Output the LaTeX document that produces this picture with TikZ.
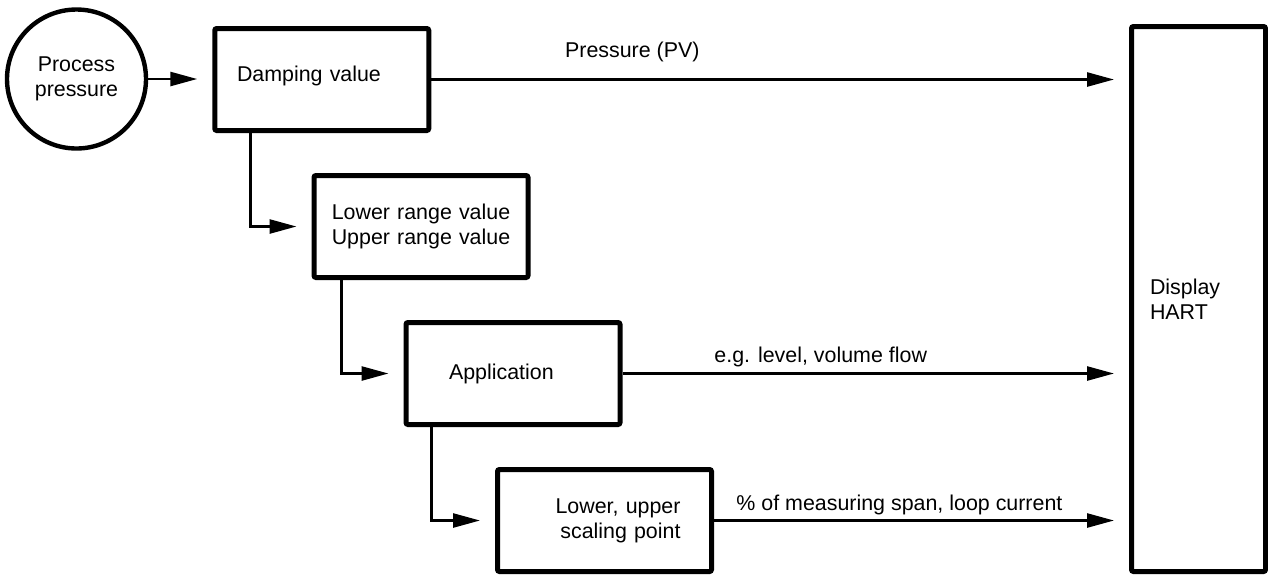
\documentclass[tikz,border=0pt]{standalone}
\usepackage{fontspec}
\setmainfont{Liberation Sans}
\usepackage{tikz}
\usetikzlibrary{arrows.meta,positioning}
\newcommand{\txtsize}{\fontsize{10.7pt}{12.5pt}\selectfont}

\begin{document}
\begin{tikzpicture}[
   x=0.5pt, y=-0.5pt,
   blk/.style={draw, line width=2.5pt, rounded corners=1pt, minimum width=107pt,
               minimum height=51pt, inner sep=2pt, font=\txtsize},
   src/.style={draw, circle, line width=2.2pt, minimum size=69.5pt,
               inner sep=0pt, align=center, font=\txtsize},
   fl/.style={-{Triangle[length=13.5pt, width=7pt]}, line width=1.3pt,
              shorten >=7.5pt},
   lbl/.style={anchor=base west, inner sep=0pt, font=\txtsize}]
  \useasboundingbox (0,0) rectangle (1268,575);
  \node[src] (pp) at (76.5,79) {Process\\pressure};
  \node[blk, text width=84.75pt, align=left, text depth=5.75pt] (damp) at (321.75,79.5) {Damping value};
  \node[blk, text width=90pt, align=center] (range) at (421,226.5) {Lower range value\\Upper range value};
  \node[blk, text width=64pt, align=left] (app) at (513,373.5) {Application};
  \node[blk, text width=76pt, align=right] (scale) at (604.5,520.5) {Lower, upper\\scaling point};
  \node[blk, minimum width=67pt, minimum height=272.5pt, text width=48.5pt, align=left]
       (disp) at (1198.5,299) {Display\\HART};
  \draw[fl] (pp.east) -- (pp.east -| damp.west);
  \foreach \p/\q/\d in {damp/range/19pt, range/app/15pt, app/scale/14pt}
    {\draw[fl] ([xshift=\d]\p.south west) |- (\q.west);}
  \draw[fl] (damp.east) -- (damp.east -| disp.west)
        node[lbl, pos=0.19, yshift=11pt] (pv) {Pressure (PV)};
  \draw[fl] (app.east) -- (app.east -| disp.west)
        node[lbl, pos=0.179, yshift=5.3pt] (lvl) {e.g. level, volume flow};
  \draw[fl] (scale.east) -- (scale.east -| disp.west)
        node[lbl, pos=0.051, yshift=5pt] (span) {\% of measuring span, loop current};
\end{tikzpicture}
\end{document}
